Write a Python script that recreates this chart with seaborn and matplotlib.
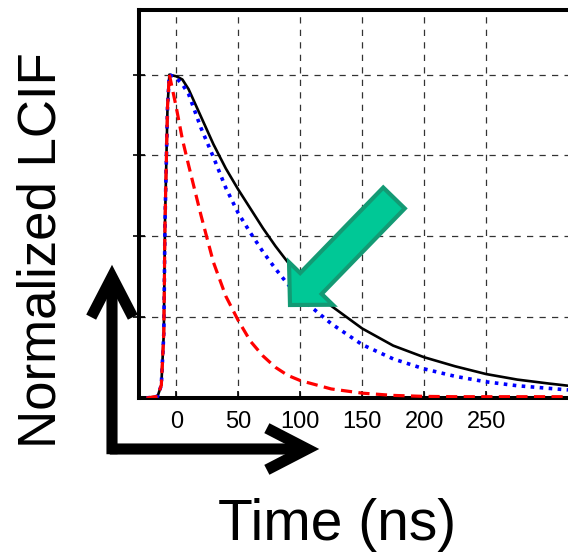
import matplotlib

matplotlib.use("Agg")

import matplotlib.pyplot as plt
import pandas as pd
import seaborn as sns
from matplotlib.patches import FancyArrow, FancyArrowPatch

# time axis (ns) shared by all three traces
time_ns = [-24, -15, -12, -10, -9, -7, -5.5, 0, 5, 10, 20, 30, 40, 50, 60, 70,
           80, 90, 100, 125, 150, 175, 200, 225, 250, 275, 300, 316]

lcif_solid = [0, 0.005, 0.04, 0.2, 0.55, 0.9, 1.0, 0.995, 0.985, 0.955, 0.87,
              0.785, 0.71, 0.645, 0.585, 0.525, 0.47, 0.42, 0.375, 0.285, 0.215,
              0.162, 0.126, 0.098, 0.074, 0.057, 0.045, 0.038]
lcif_dotted = [0, 0.005, 0.04, 0.2, 0.55, 0.9, 1.0, 0.99, 0.97, 0.94, 0.835,
               0.745, 0.65, 0.572, 0.51, 0.452, 0.40, 0.352, 0.31, 0.23, 0.165,
               0.121, 0.09, 0.067, 0.05, 0.038, 0.03, 0.025]
lcif_dashed = [0, 0.005, 0.04, 0.2, 0.55, 0.9, 1.0, 0.9, 0.8, 0.72, 0.565,
               0.42, 0.315, 0.24, 0.175, 0.13, 0.095, 0.07, 0.054, 0.028, 0.015,
               0.008, 0.005, 0.004, 0.004, 0.004, 0.004, 0.004]

x_ticks = [0, 50, 100, 150, 200, 250]
y_grid = [0.25, 0.5, 0.75, 1.0]

df = pd.DataFrame({"time": time_ns, "solid": lcif_solid,
                   "dotted": lcif_dotted, "dashed": lcif_dashed})

sns.set_theme(style="white")
plt.rcParams["font.family"] = ["Liberation Sans", "DejaVu Sans"]
plt.rcParams["text.color"] = "black"
plt.rcParams["xtick.color"] = "black"
plt.rcParams["ytick.color"] = "black"

fig = plt.figure(figsize=(5.68, 5.57), dpi=100)
ax = fig.add_axes([139 / 568, 159 / 557, 1 - 139 / 568, 388 / 557])

sns.lineplot(data=df, x="time", y="solid", color="black", lw=1.9, ax=ax, zorder=3)
sns.lineplot(data=df, x="time", y="dotted", color="#0000ff", lw=2.6,
             linestyle=(0, (1, 1.5)), ax=ax, zorder=4)
sns.lineplot(data=df, x="time", y="dashed", color="#ff0000", lw=2.3,
             linestyle=(0, (3.5, 2)), ax=ax, zorder=5)

ax.set_xlim(-30, 316)
ax.set_ylim(0, 1.2)
ax.set_xticks(x_ticks)
ax.set_yticks(y_grid)
ax.set_yticklabels([])
ax.set_xlabel("")
ax.set_ylabel("")
ax.grid(True, linestyle=(0, (5, 5)), color="#333333", lw=0.9)
ax.set_axisbelow(True)
ax.tick_params(axis="x", direction="in", length=5, width=1.2, pad=9,
               labelsize=17, labelcolor="black", bottom=True)
ax.tick_params(axis="y", direction="inout", length=8, width=1.2, left=True)
for side in ["left", "top", "bottom"]:
    ax.spines[side].set_linewidth(2.9)
    ax.spines[side].set_color("black")
ax.spines["right"].set_visible(False)

fig.text(42 / 568, 307 / 557, "Normalized LCIF", rotation=90, fontsize=38,
         ha="center", va="center", color="black")
fig.text(337 / 568, 32 / 557, "Time (ns)", fontsize=41, ha="center",
         va="center", color="black")

# black L-shaped axis arrows
for start, end in [((112 / 568, 100 / 557), (112 / 568, 295 / 557)),
                   ((107 / 568, 108 / 557), (322 / 568, 108 / 557))]:
    fig.add_artist(FancyArrowPatch(start, end, transform=fig.transFigure,
                                   arrowstyle="->,head_length=2.9,head_width=1.5",
                                   mutation_scale=10, lw=8, color="black",
                                   capstyle="butt", joinstyle="miter"))

# green pointer arrow (inches)
fig.add_artist(FancyArrow(3.94, 3.59, -1.04, -1.07, width=0.30, head_width=0.61,
                          head_length=0.30, length_includes_head=True,
                          transform=fig.dpi_scale_trans, facecolor="#00c896",
                          edgecolor="#139a74", lw=3, zorder=10))

fig.savefig("out.png", dpi=100)
